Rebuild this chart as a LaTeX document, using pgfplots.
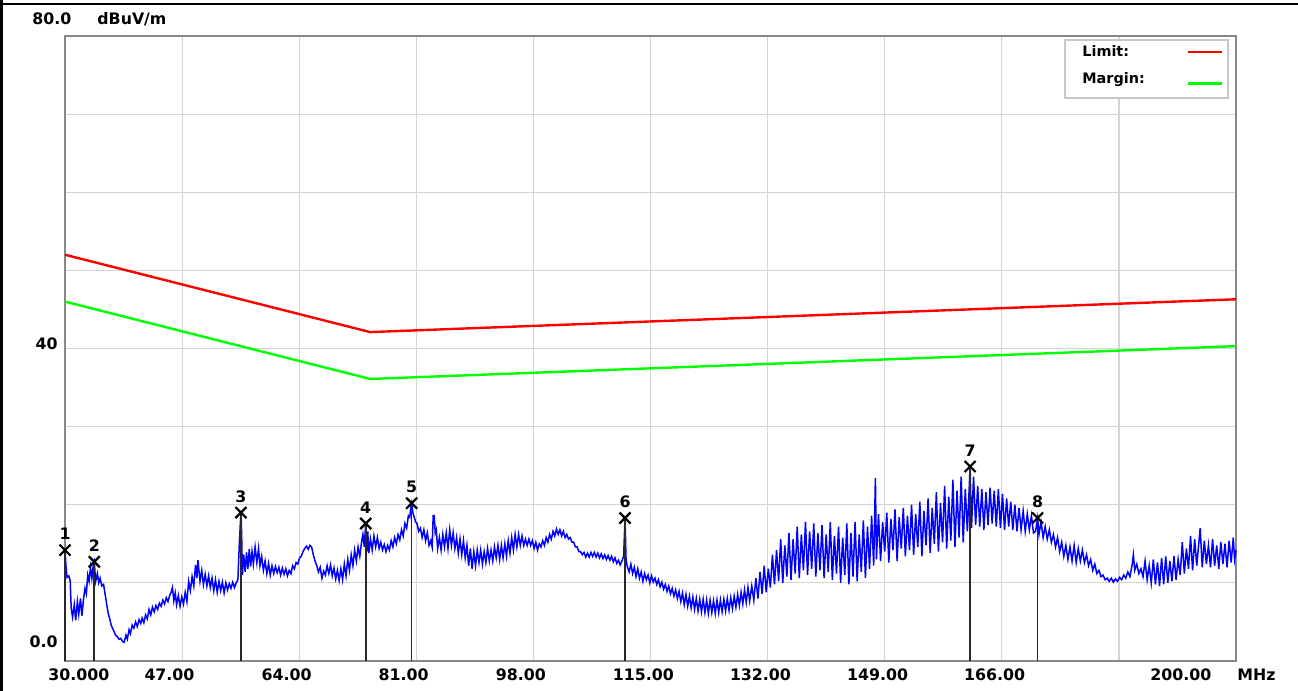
\documentclass[border=0pt]{standalone}
\usepackage{pgfplots}
\pgfplotsset{compat=1.18}
\usepackage{pgfplotstable}
\usepackage{fontspec}
\setmainfont{DejaVu Sans}

\definecolor{gridgray}{RGB}{212,212,212}
\definecolor{framegray}{RGB}{136,136,136}
\definecolor{boxgray}{RGB}{200,200,200}
\definecolor{combgray}{RGB}{40,40,40}
\definecolor{limitred}{RGB}{255,0,0}
\definecolor{margingreen}{RGB}{0,255,0}
\definecolor{traceblue}{RGB}{0,0,255}

% marker table: frequency (MHz), level (dBuV/m), marker number
\pgfplotstableread{
f lev id
30.00 14.2 1
34.25 12.7 2
55.55 19.0 3
73.66 17.6 4
80.33 20.2 5
111.30 18.3 6
161.40 24.9 7
171.20 18.3 8
}\markers

\begin{document}
\begin{tikzpicture}[font=\fontsize{7.9}{9.5}\selectfont\bfseries]
\useasboundingbox (0,0) rectangle (649pt,345.5pt);
\fill[white] (0,0) rectangle (649pt,345.5pt);
\draw[black, line width=1pt] (0,343.5pt) -- (649pt,343.5pt);
\draw[black, line width=1.5pt] (0.75pt,0) -- (0.75pt,345.5pt);

\begin{axis}[
  at={(32.5pt,15pt)}, anchor=south west,
  scale only axis, width=585.5pt, height=312.5pt,
  xmin=30, xmax=200, ymin=0, ymax=80,
  clip=false,
  axis line style={framegray, line width=1.25pt},
  grid=major,
  major grid style={gridgray, line width=0.6pt},
  major tick length=0pt,
  xtick={30,47,64,81,98,115,132,149,166,183,200},
  xticklabels={,47.00,64.00,81.00,98.00,115.00,132.00,149.00,166.00,,},
  xticklabel style={anchor=west, inner sep=0pt, xshift=-19pt, yshift=-7pt},
  ytick={0,10,20,30,40,50,60,70,80},
  yticklabels={,,,,40,,,,},
  yticklabel style={anchor=east, inner sep=0pt, xshift=-3.5pt, yshift=2.5pt},
]

% limit and margin lines
\addplot[limitred, line width=1.2pt] coordinates {(30,52.0) (74.3,42.1) (200,46.3)};
\addplot[margingreen, line width=1.2pt] coordinates {(30,46.0) (74.3,36.1) (200,40.3)};

% measured field strength
\addplot[traceblue, line width=0.75pt] coordinates {
(30.0,14.2) (30.15,12.0) (30.3,10.7) (30.55,10.9) (30.75,10.3) (30.9,6.8) (31.1,5.6) (31.35,7.2) (31.55,5.2) (31.8,7.6)
(32.0,6.0) (32.25,8.0) (32.45,5.8) (32.7,8.0) (32.9,9.3) (33.1,8.6) (33.3,11.0) (33.5,10.2) (33.7,12.0) (33.9,10.6)
(34.1,12.2) (34.25,12.7) (34.45,10.2) (34.7,11.2) (34.9,10.0) (35.1,10.6) (35.35,9.6) (35.6,9.8)
(35.85,8.4) (36.1,7.0) (36.3,6.0) (36.5,5.4) (36.7,4.6) (36.9,4.2) (37.1,3.8) (37.35,3.3) (37.6,3.1) (37.85,2.8)
(38.1,2.9) (38.35,2.5) (38.6,2.4) (38.85,3.3) (39.05,2.8) (39.3,4.0) (39.5,3.5) (39.75,4.6) (40.0,4.2) (40.25,5.0)
(40.5,4.4) (40.75,5.3) (41.0,4.8) (41.2,5.5) (41.45,4.9) (41.7,5.9) (41.95,5.4) (42.2,6.6) (42.45,5.9) (42.7,6.9)
(42.95,6.3) (43.2,7.1) (43.45,6.6) (43.7,7.4) (43.95,7.0) (44.2,7.8) (44.45,7.3) (44.7,8.1) (44.95,7.6) (45.2,8.4)
(45.45,8.9) (45.6,9.4) (45.8,7.7) (46.0,8.7) (46.2,7.2) (46.45,8.4) (46.7,7.0) (46.95,8.2) (47.2,7.3) (47.45,8.8)
(47.7,7.6) (47.95,10.2) (48.2,9.0) (48.45,10.8) (48.7,9.6) (48.95,12.3) (49.15,10.6) (49.3,12.9) (49.6,10.2) (49.85,11.6)
(50.1,9.8) (50.35,11.1) (50.6,9.6) (50.85,10.9) (51.1,9.4) (51.35,10.6) (51.6,9.0) (51.85,10.4) (52.1,8.8) (52.35,10.2)
(52.6,9.0) (52.85,10.1) (53.1,8.7) (53.35,10.0) (53.6,9.1) (53.85,9.9) (54.1,9.3) (54.35,10.1) (54.6,9.4) (54.85,10.0)
(55.1,10.4) (55.3,14.8) (55.45,17.5) (55.55,19.0) (55.65,16.0) (55.75,11.0) (55.95,13.6) (56.15,11.4) (56.35,13.9) (56.55,11.8)
(56.75,14.3) (56.95,12.1) (57.15,14.0) (57.35,12.4) (57.6,14.6) (57.85,12.6) (58.1,14.4) (58.3,12.2) (58.55,13.4) (58.8,11.6)
(59.05,12.8) (59.3,11.2) (59.55,12.5) (59.8,11.0) (60.05,12.2) (60.3,11.2) (60.55,12.1) (60.8,11.3) (61.05,12.0) (61.3,11.0)
(61.55,11.9) (61.8,11.1) (62.05,11.8) (62.3,10.9) (62.55,11.6) (62.8,11.2) (63.05,12.2) (63.3,11.8) (63.55,12.6) (63.8,12.4)
(64.05,13.2) (64.3,13.4) (64.55,14.0) (64.8,14.4) (65.05,14.7) (65.3,14.3) (65.55,14.8) (65.8,14.6) (66.05,13.6) (66.3,12.8)
(66.55,12.2) (66.8,11.4) (67.05,12.0) (67.3,10.6) (67.55,11.5) (67.8,11.0) (68.05,12.2) (68.3,11.2) (68.55,12.3) (68.8,10.9)
(69.05,11.9) (69.3,10.5) (69.55,11.6) (69.8,10.3) (70.05,11.8) (70.3,10.4) (70.55,12.4) (70.8,10.9) (71.05,13.0) (71.3,11.6)
(71.55,13.6) (71.8,12.2) (72.05,14.2) (72.3,12.8) (72.55,14.6) (72.8,13.4) (73.05,15.2) (73.25,16.2) (73.45,14.6) (73.66,17.6)
(73.8,14.0) (73.95,16.6) (74.1,13.8) (74.35,15.6) (74.6,14.2) (74.85,16.0) (75.1,14.6) (75.35,15.8) (75.6,14.4) (75.85,15.2)
(76.1,14.2) (76.35,14.9) (76.6,14.0) (76.85,14.8) (77.1,14.2) (77.35,15.4) (77.6,14.6) (77.85,15.8) (78.1,15.0) (78.35,16.2)
(78.6,15.5) (78.85,16.8) (79.1,16.0) (79.35,17.6) (79.6,17.0) (79.85,18.6) (80.05,18.4) (80.2,19.6) (80.33,20.2) (80.5,19.0)
(80.7,18.4) (80.9,17.8) (81.1,17.6) (81.35,16.6) (81.6,17.0) (81.85,15.8) (82.1,16.8) (82.35,15.4) (82.6,16.4) (82.85,14.8)
(83.1,15.4) (83.3,14.6) (83.45,18.6) (83.6,18.6) (83.75,16.4) (83.9,16.8) (84.1,14.4) (84.35,15.8) (84.6,14.2) (84.85,16.2)
(85.1,14.6) (85.35,16.4) (85.6,14.4) (85.85,16.8) (86.1,14.8) (86.35,16.4) (86.6,14.4) (86.85,15.8) (87.1,13.8) (87.35,15.6)
(87.6,13.6) (87.85,15.4) (88.1,13.2) (88.35,14.8) (88.6,12.2) (88.85,14.4) (89.1,11.8) (89.35,14.0) (89.6,12.2) (89.85,14.2)
(90.1,12.6) (90.35,14.2) (90.6,12.4) (90.85,14.0) (91.1,12.6) (91.35,14.4) (91.6,12.8) (91.85,14.2) (92.1,12.8) (92.35,14.6)
(92.6,13.2) (92.85,14.8) (93.1,13.0) (93.35,14.8) (93.6,13.2) (93.85,15.0) (94.1,13.4) (94.35,15.4) (94.6,13.8) (94.85,15.8)
(95.1,14.2) (95.35,16.2) (95.6,14.6) (95.85,16.2) (96.1,14.8) (96.35,16.0) (96.6,14.8) (96.85,15.6) (97.1,14.8) (97.35,15.6)
(97.6,14.8) (97.85,15.4) (98.1,14.4) (98.35,15.2) (98.6,14.2) (98.85,15.0) (99.1,14.6) (99.35,15.4) (99.6,14.8) (99.85,15.8)
(100.1,15.2) (100.35,16.2) (100.6,15.6) (100.85,16.6) (101.1,16.0) (101.35,16.9) (101.6,16.2) (101.85,16.8) (102.1,16.0) (102.35,16.6)
(102.6,15.8) (102.85,16.2) (103.1,15.6) (103.35,15.8) (103.6,15.2) (103.85,15.2) (104.1,14.6) (104.35,14.6) (104.6,14.0) (104.85,14.0)
(105.1,13.6) (105.35,13.9) (105.6,13.3) (105.85,13.8) (106.1,13.3) (106.35,13.9) (106.6,13.4) (106.85,13.9) (107.1,13.3) (107.35,13.8)
(107.6,13.2) (107.85,13.7) (108.1,13.1) (108.35,13.6) (108.6,13.0) (108.85,13.5) (109.1,12.9) (109.35,13.4) (109.6,12.7) (109.85,13.2)
(110.1,12.5) (110.35,12.9) (110.6,12.3) (110.85,12.8) (111.1,13.4) (111.3,18.3) (111.45,13.0) (111.65,12.0) (111.9,11.4) (112.15,12.4)
(112.4,11.2) (112.65,12.0) (112.9,10.8) (113.15,11.8) (113.4,10.6) (113.65,11.4) (113.9,10.2) (114.15,11.2) (114.4,10.4) (114.65,11.0)
(114.9,10.0) (115.15,10.9) (115.4,10.1) (115.65,10.6) (115.9,9.8) (116.15,10.4) (116.4,9.5) (116.65,10.1) (116.9,9.2) (117.15,9.8)
(117.4,8.9) (117.65,9.6) (117.9,8.6) (118.15,9.3) (118.4,8.3) (118.65,9.1) (118.9,8.0) (119.15,8.9) (119.4,7.6) (119.65,8.7)
(119.9,7.2) (120.15,8.5) (120.4,7.0) (120.65,8.3) (120.9,6.8) (121.15,8.2) (121.4,6.6) (121.65,8.0) (121.9,6.4) (122.15,7.9)
(122.4,6.3) (122.65,7.9) (122.9,6.2) (123.15,7.8) (123.4,6.1) (123.65,7.8) (123.9,6.2) (124.15,7.7) (124.4,6.1) (124.65,7.8)
(124.9,6.2) (125.15,7.8) (125.4,6.3) (125.65,7.9) (125.9,6.4) (126.15,8.0) (126.4,6.5) (126.65,8.1) (126.9,6.7) (127.15,8.3)
(127.4,6.9) (127.65,8.5) (127.9,7.1) (128.15,8.8) (128.4,7.3) (128.65,9.1) (128.9,7.5) (129.15,9.4) (129.4,7.7) (129.7,9.6)
(130.0,7.8) (130.3,10.6) (130.6,8.0) (130.9,11.4) (131.2,8.6) (131.5,12.2) (131.8,8.8) (132.1,11.8) (132.4,9.4) (132.7,13.6)
(133.0,9.8) (133.3,14.2) (133.6,10.2) (133.9,15.6) (134.2,10.0) (134.5,14.8) (134.8,10.8) (135.1,16.4) (135.4,10.4) (135.7,15.6)
(136.0,11.2) (136.3,17.2) (136.6,10.6) (136.9,16.2) (137.2,11.6) (137.5,17.8) (137.8,11.0) (138.1,16.6) (138.4,11.8) (138.7,17.6)
(139.0,10.8) (139.3,16.4) (139.6,11.6) (139.9,17.4) (140.2,10.6) (140.5,16.2) (140.8,11.4) (141.1,17.8) (141.4,10.4) (141.7,16.0)
(142.0,11.2) (142.3,17.2) (142.6,10.0) (142.9,15.8) (143.2,11.0) (143.5,17.6) (143.8,9.8) (144.1,16.4) (144.4,10.8) (144.7,17.8)
(145.0,10.2) (145.3,16.2) (145.6,11.4) (145.9,18.0) (146.2,10.6) (146.5,17.2) (146.8,11.8) (147.1,18.6) (147.4,12.2) (147.65,23.4)
(147.8,13.0) (148.1,18.8) (148.4,12.8) (148.7,17.8) (149.0,14.0) (149.3,19.0) (149.6,12.6) (149.9,18.2) (150.2,14.2) (150.5,19.4)
(150.8,12.8) (151.1,18.4) (151.4,14.4) (151.7,19.6) (152.0,13.4) (152.3,18.6) (152.6,14.2) (152.9,20.0) (153.2,13.6) (153.5,18.8)
(153.8,14.6) (154.1,20.4) (154.4,13.4) (154.7,19.2) (155.0,14.8) (155.3,20.8) (155.6,13.8) (155.9,19.6) (156.2,15.0) (156.5,21.6)
(156.8,14.0) (157.1,20.2) (157.4,15.2) (157.7,22.4) (158.0,14.4) (158.3,21.0) (158.6,15.4) (158.9,23.2) (159.2,14.6) (159.5,21.8)
(159.8,15.8) (160.1,23.6) (160.4,15.2) (160.7,22.0) (161.0,16.6) (161.4,24.9) (161.6,17.0) (161.9,23.6) (162.2,17.4) (162.5,22.4)
(162.8,17.2) (163.1,22.0) (163.4,16.8) (163.7,21.6) (164.0,17.4) (164.3,22.2) (164.6,17.6) (164.9,21.8) (165.2,17.2) (165.5,22.0)
(165.8,17.0) (166.1,21.4) (166.4,16.8) (166.7,20.8) (167.0,17.2) (167.3,20.4) (167.6,16.8) (167.9,20.0) (168.2,16.6) (168.5,19.6)
(168.8,16.8) (169.1,19.2) (169.4,16.6) (169.7,18.8) (170.0,16.8) (170.3,18.6) (170.6,16.4) (170.9,16.6) (171.2,18.3) (171.4,16.2)
(171.7,17.8) (172.0,15.8) (172.3,17.2) (172.6,15.6) (172.9,16.8) (173.2,15.2) (173.5,16.2) (173.8,14.6) (174.1,15.8) (174.4,14.0)
(174.7,15.2) (175.0,13.4) (175.3,14.8) (175.6,13.0) (175.9,14.6) (176.2,12.8) (176.5,14.8) (176.8,12.6) (177.1,14.4) (177.4,12.8)
(177.7,14.2) (178.0,12.6) (178.3,13.6) (178.6,12.2) (178.9,13.0) (179.2,11.6) (179.5,12.4) (179.8,11.2) (180.1,11.6) (180.4,10.8)
(180.7,11.0) (181.0,10.4) (181.3,10.6) (181.6,10.2) (181.9,10.6) (182.2,10.1) (182.5,10.5) (182.8,10.2) (183.1,10.7) (183.4,10.4)
(183.7,11.0) (184.0,10.6) (184.3,11.4) (184.6,10.8) (184.9,12.2) (185.1,13.6) (185.3,11.6) (185.6,12.4) (185.9,11.2) (186.2,11.8)
(186.5,10.8) (186.8,12.8) (187.1,10.4) (187.4,12.2) (187.7,10.0) (188.0,13.0) (188.3,9.8) (188.6,12.6) (188.9,9.6) (189.2,13.2)
(189.5,9.8) (189.8,13.4) (190.1,10.0) (190.4,12.8) (190.7,10.2) (191.0,13.4) (191.3,10.4) (191.6,13.0) (191.9,11.0) (192.2,15.2)
(192.5,11.2) (192.8,14.4) (193.1,11.8) (193.4,16.0) (193.7,11.6) (194.0,15.6) (194.3,12.2) (194.8,17.0) (195.1,12.0) (195.4,15.4)
(195.7,12.4) (196.0,14.8) (196.3,12.0) (196.6,15.6) (196.9,12.2) (197.2,14.8) (197.5,11.8) (197.8,15.2) (198.1,12.4) (198.4,15.0)
(198.7,12.0) (199.0,15.4) (199.3,12.6) (199.6,15.8) (199.8,13.0) (200.0,14.2)
};

% markers with numbered labels
\addplot[ycomb, draw=combgray, line width=0.8pt,
  mark=x, mark size=3.9pt, mark options={black, line width=1.1pt},
  nodes near coords, point meta=explicit symbolic,
  nodes near coords style={anchor=south, inner sep=0pt, yshift=4.5pt, black}]
  table[x=f, y=lev, meta=id] {\markers};

% axis annotations
\node[anchor=west, inner sep=0pt] at (axis cs:30,0) [xshift=-8.5pt, yshift=-7pt] {30.000};
\node[anchor=west, inner sep=0pt] at (axis cs:200,0) [xshift=-43pt, yshift=-7pt] {200.00};
\node[anchor=west, inner sep=0pt] at (axis cs:200,0) [xshift=0.5pt, yshift=-7pt] {MHz};
\node[anchor=east, inner sep=0pt] at (axis cs:30,0) [xshift=-3.5pt, yshift=9.5pt] {0.0};
\node[anchor=west, inner sep=0pt] at (axis cs:30,80) [xshift=-16.5pt, yshift=8.5pt] {80.0};
\node[anchor=west, inner sep=0pt] at (axis cs:30,80) [xshift=16pt, yshift=8.5pt] {dBuV/m};

% legend box
\filldraw[fill=white, draw=boxgray, line width=1pt]
  (axis description cs:0.8540,0.9008) rectangle (axis description cs:0.9932,0.9936);
\node[anchor=base west, inner sep=0pt, font=\fontsize{7.2}{9}\selectfont\bfseries]
  at (axis description cs:0.8685,0.9669) {Limit:};
\node[anchor=base west, inner sep=0pt, font=\fontsize{7.2}{9}\selectfont\bfseries]
  at (axis description cs:0.8685,0.9232) {Margin:};
\draw[limitred, line width=1.2pt] (axis description cs:0.959,0.9744) -- (axis description cs:0.988,0.9744);
\draw[margingreen, line width=1.2pt] (axis description cs:0.959,0.9243) -- (axis description cs:0.988,0.9243);
\end{axis}
\end{tikzpicture}
\end{document}
